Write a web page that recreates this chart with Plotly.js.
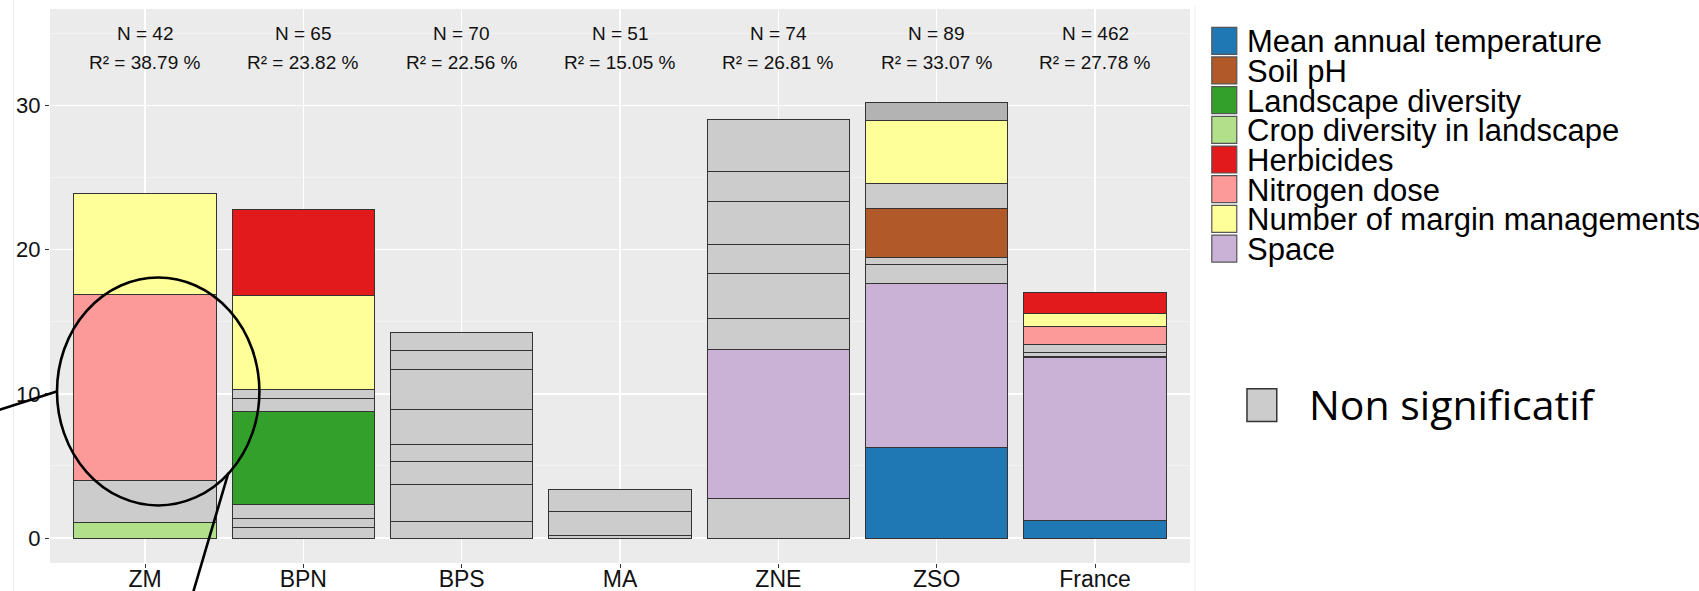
<!DOCTYPE html>
<html><head><meta charset="utf-8">
<script src="https://cdn.plot.ly/plotly-3.0.1.min.js"></script>
<style>html,body{margin:0;padding:0;background:#fff;overflow:hidden;}</style>
</head><body><div id="chart" style="width:1699px;height:591px;"></div>
<script>
// ---------- data ----------
const categories = ['ZM','BPN','BPS','MA','ZNE','ZSO','France'];
const nObs = [42, 65, 70, 51, 74, 89, 462];
const r2 = ['38.79', '23.82', '22.56', '15.05', '26.81', '33.07', '27.78'];

const variables = ['Mean annual temperature','Soil pH','Landscape diversity','Crop diversity in landscape','Herbicides','Nitrogen dose','Number of margin managements','Space'];
const varColors = ['#1F78B4','#B15928','#33A02C','#B2DF8A','#E31A1C','#FB9A99','#FFFF99','#CAB2D6'];
const nsLabel = 'Non significatif';
const nsColor = '#CCCCCC';
const nsDarkColor = '#B3B3B3';

// stacked segments, bottom to top
const segZM = [1.05, 2.95, 12.90, 7.00];
const varZM = ['Crop diversity in landscape','NS','Nitrogen dose','Number of margin managements'];
const segBPN = [0.71, 0.65, 1.00, 6.42, 0.90, 0.60, 6.57, 5.90];
const varBPN = ['NS','NS','NS','Landscape diversity','NS','NS','Number of margin managements','Herbicides'];
const segBPS = [1.18, 2.56, 1.55, 1.22, 2.43, 2.77, 1.27, 1.27];
const varBPS = ['NS','NS','NS','NS','NS','NS','NS','NS'];
const segMA = [0.18, 1.69, 1.53];
const varMA = ['NS','NS','NS'];
const segZNE = [2.77, 10.33, 2.15, 3.11, 2.01, 2.98, 2.08, 3.56];
const varZNE = ['NS','Space','NS','NS','NS','NS','NS','NS'];
const segZSO = [6.28, 11.34, 1.37, 0.48, 3.40, 1.68, 4.42, 1.20];
const varZSO = ['Mean annual temperature','Space','NS','NS','Soil pH','NS','Number of margin managements','NS2'];
const segFR = [1.20, 11.32, 0.09, 0.28, 0.55, 1.25, 0.85, 1.48];
const varFR = ['Mean annual temperature','Space','NS','NS','NS','Nitrogen dose','Number of margin managements','Herbicides'];

// ---------- build ----------
const segs = [segZM, segBPN, segBPS, segMA, segZNE, segZSO, segFR];
const vars = [varZM, varBPN, varBPS, varMA, varZNE, varZSO, varFR];
function colorOf(v){
  if (v === 'NS') return nsColor;
  if (v === 'NS2') return nsDarkColor;
  return varColors[variables.indexOf(v)];
}
const nLayers = Math.max(...segs.map(s => s.length));
const traces = [];
for (let i = 0; i < nLayers; i++) {
  traces.push({
    type: 'bar',
    x: categories,
    y: segs.map(s => (i < s.length ? s[i] : null)),
    marker: {
      color: vars.map(v => (i < v.length ? colorOf(v[i]) : '#000')),
      line: {color: '#333333', width: 1}
    },
    showlegend: false,
    hoverinfo: 'x+y'
  });
}

// plot area in pixels
const L = 50, R = 1190.5, T = 9, B = 563.3;
const W = R - L, H = B - T;
const px = x => (x - L) / W;
const py = y => (B - y) / H;

const fontMain = 'Liberation Sans, Arial, sans-serif';
const annotations = [];
categories.forEach((c, k) => {
  annotations.push({x: c, y: 34.95, xref: 'x', yref: 'y', text: 'N = ' + nObs[k], showarrow: false,
    font: {family: fontMain, size: 19, color: '#111'}});
  annotations.push({x: c, y: 32.95, xref: 'x', yref: 'y', text: 'R² = ' + r2[k] + ' %', showarrow: false,
    font: {family: fontMain, size: 19, color: '#111'}});
});

const shapes = [];
// manual legend
const keyX0 = 1212.3, keyX1 = 1237.3, keyH = 27, keyStep = 29.7, keyTop = 27.3;
variables.forEach((v, i) => {
  const y0 = keyTop + i * keyStep;
  shapes.push({type: 'rect', xref: 'paper', yref: 'paper', x0: px(keyX0), x1: px(keyX1), y0: py(y0 + keyH), y1: py(y0),
    fillcolor: varColors[i], line: {color: '#555555', width: 1.2}});
  annotations.push({xref: 'paper', yref: 'paper', x: px(1245.5), y: py(y0 + keyH / 2 + 1), xanchor: 'left', yanchor: 'middle',
    text: v, showarrow: false, font: {family: fontMain, size: 31, color: '#000'}});
});
// "Non significatif" key
shapes.push({type: 'rect', xref: 'paper', yref: 'paper', x0: px(1247.5), x1: px(1277.3), y0: py(421.7), y1: py(389),
  fillcolor: nsColor, line: {color: '#333333', width: 1.5}});
annotations.push({xref: 'paper', yref: 'paper', x: px(1308), y: py(404), xanchor: 'left', yanchor: 'middle',
  text: nsLabel, showarrow: false, font: {family: 'Open Sans, Noto Sans, sans-serif', size: 41, color: '#000'}});

// hand-drawn highlight
shapes.push({type: 'circle', xref: 'paper', yref: 'paper', x0: px(57), x1: px(259.5), y0: py(505.7), y1: py(277.7),
  line: {color: '#000', width: 2.6}});
shapes.push({type: 'line', xref: 'paper', yref: 'paper', x0: px(-2), y0: py(410.5), x1: px(57.5), y1: py(391.5),
  line: {color: '#000', width: 2.6}});
shapes.push({type: 'line', xref: 'paper', yref: 'paper', x0: px(228.5), y0: py(473), x1: px(192.5), y1: py(595),
  line: {color: '#000', width: 2.6}});
// faint frame lines of the source image
shapes.push({type: 'line', xref: 'paper', yref: 'paper', x0: px(13.5), x1: px(13.5), y0: py(0), y1: py(591),
  line: {color: '#EBEBEB', width: 1}, layer: 'below'});
shapes.push({type: 'line', xref: 'paper', yref: 'paper', x0: px(1195.5), x1: px(1195.5), y0: py(6), y1: py(591),
  line: {color: '#F0F0F0', width: 1}, layer: 'below'});

const layout = {
  width: 1699, height: 591,
  margin: {l: L, r: 1699 - R, t: T, b: 591 - B, pad: 0},
  paper_bgcolor: '#FFFFFF',
  plot_bgcolor: '#EBEBEB',
  barmode: 'stack',
  bargap: 0.1,
  showlegend: false,
  xaxis: {
    type: 'category', range: [-0.6, 6.6], fixedrange: true,
    showgrid: true, gridcolor: '#FFFFFF', gridwidth: 1.6,
    ticks: 'outside', ticklen: 4, tickcolor: '#333333', tickwidth: 1,
    ticklabelstandoff: -9,
    tickfont: {family: fontMain, size: 23, color: '#111'},
    showline: false, zeroline: false
  },
  yaxis: {
    range: [-1.73, 36.68], fixedrange: true,
    tickmode: 'array', tickvals: [0, 10, 20, 30], ticktext: ['0', '10', '20', '30'],
    showgrid: true, gridcolor: '#FFFFFF', gridwidth: 1.6,
    minor: {tickmode: 'array', tickvals: [5, 15, 25, 35], showgrid: true, gridcolor: '#F5F5F5', gridwidth: 0.8, ticks: ''},
    ticks: 'outside', ticklen: 4, tickcolor: '#333333', tickwidth: 1,
    tickfont: {family: fontMain, size: 22, color: '#111'},
    showline: false, zeroline: false
  },
  annotations: annotations,
  shapes: shapes
};

Plotly.newPlot('chart', traces, layout, {displayModeBar: false, staticPlot: true});
</script>
</body></html>
